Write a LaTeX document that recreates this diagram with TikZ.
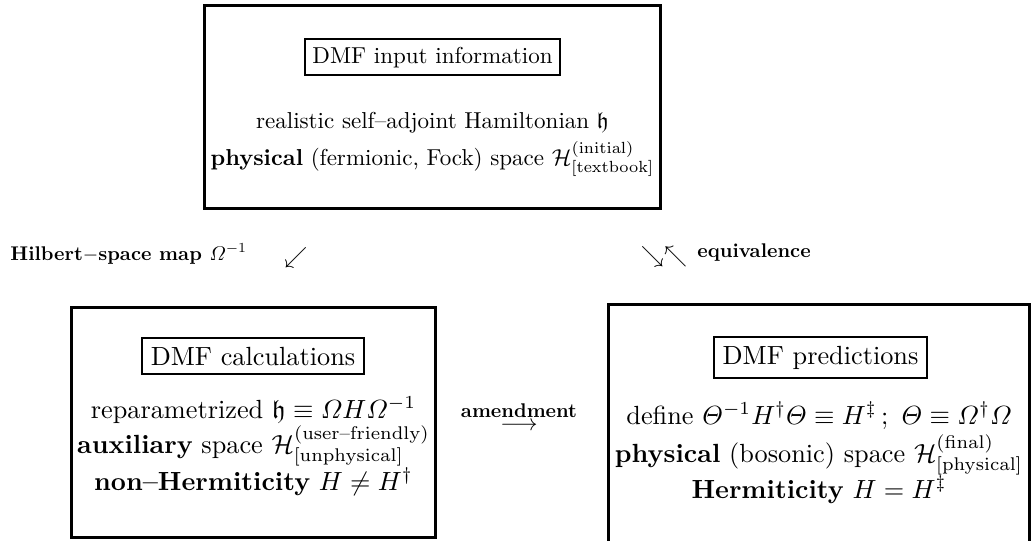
\documentclass[tikz,border=0pt]{standalone}
\usepackage{graphicx}
\usepackage{amsmath,amssymb}
\newcommand{\bsm}[1]{\scalebox{0.86}{\bfseries #1}}
\newcommand{\bigtxt}[1]{\scalebox{1.14}{#1}}

\begin{document}
\begin{tikzpicture}[x=0.434pt,y=-0.434pt,
   frame/.style={draw,line width=1.3pt,inner sep=0pt},
   titlebox/.style={draw,line width=0.8pt,inner sep=3.8pt,anchor=base},
   txt/.style={anchor=base,inner sep=0pt}]
   \useasboundingbox (0,0) rectangle (1032,540);
   % top: input information
   \node[frame,minimum width=197.5pt,minimum height=88.5pt] (input) at (432.5,107) {};
   \node[titlebox,inner sep=3.4pt] (inputT) at (432.5,63) {DMF input information};
   \node[txt] (inputA) at (432.5,128) {realistic self--adjoint Hamiltonian $\mathfrak{h}$};
   \node[txt] (inputB) at (432.5,165) {\textbf{physical} (fermionic, Fock) space $\mathcal{H}^{(\rm initial)}_{[\rm textbook]}$};
   % bottom left: calculations
   \node[frame,minimum width=158.4pt,minimum height=99.4pt] (calc) at (253.5,422.5) {};
   \node[titlebox] (calcT) at (253,365) {\bigtxt{DMF calculations}};
   \node[txt] (calcA) at (253.5,418) {\bigtxt{reparametrized $\mathfrak{h}\equiv \varOmega H \varOmega^{-1}$}};
   \node[txt] (calcB) at (253.5,453) {\bigtxt{\textbf{auxiliary} space $\mathcal{H}^{(\rm user\text{--}friendly)}_{[\rm unphysical]}$}};
   \node[txt] (calcC) at (253.5,490) {\bigtxt{\textbf{non--Hermiticity} $H\neq H^{\dagger}$}};
   % bottom right: predictions
   \node[frame,minimum width=182.3pt,minimum height=102.9pt] (pred) at (819,423.5) {};
   \node[titlebox] (predT) at (820.5,364) {\bigtxt{DMF predictions}};
   \node[txt] (predA) at (819,424) {\bigtxt{define $\varTheta^{-1}H^{\dagger}\varTheta\equiv H^{\ddagger}\,;\ \varTheta\equiv\varOmega^{\dagger}\varOmega$}};
   \node[txt] (predB) at (819,462) {\bigtxt{\textbf{physical} (bosonic) space $\mathcal{H}^{(\rm final)}_{[\rm physical]}$}};
   \node[txt] (predC) at (819,498) {\bigtxt{\textbf{Hermiticity} $H=H^{\ddagger}$}};
   % maps
   \node[txt,anchor=base west] (mapL) at (10,260) {\bsm{Hilbert$-$space map $\varOmega^{-1}$}};
   \node (mapA) at (296,258) {$\swarrow$};
   \node (eqA) at (664,257) {$\searrow\nwarrow$};
   \node[txt,anchor=base west] (eqL) at (697,257) {\bsm{equivalence}};
   \node (amend) at (519,416) {$\stackrel{\mbox{\bsm{amendment}}}{\longrightarrow}$};
\end{tikzpicture}
\end{document}
